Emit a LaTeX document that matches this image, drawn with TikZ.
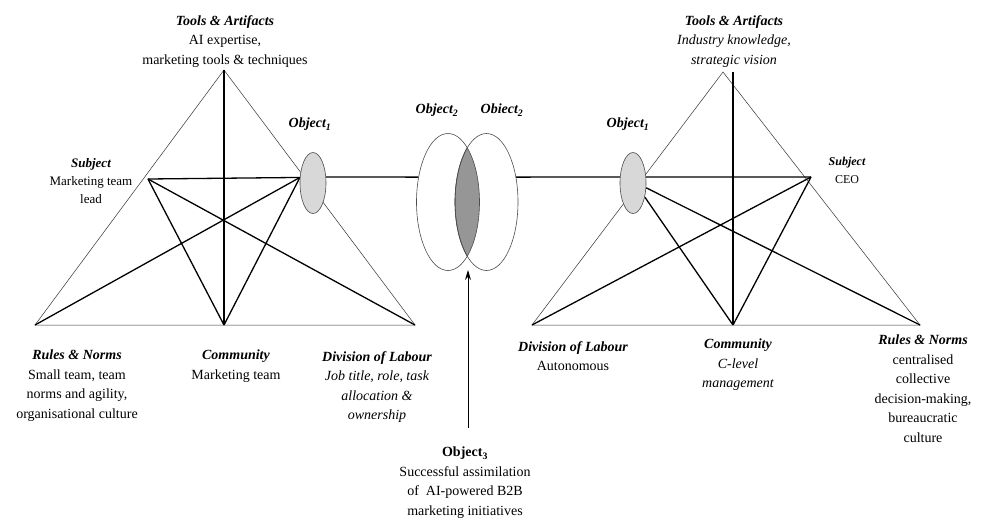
\documentclass[tikz,border=0pt]{standalone}
\usepackage{fontspec}
\setmainfont{Liberation Serif}
\usetikzlibrary{shapes.geometric,arrows.meta,backgrounds}

\begin{document}
\begin{tikzpicture}[x=1pt,y=-1pt,
  sideline/.style={line width=0.5pt,draw=black!80},
  tieline/.style={line width=1.3pt,draw=black},
  lab/.style={align=center,inner sep=0pt,anchor=north,font=\fontsize{14}{19.5}\selectfont},
  objnode/.style={ellipse,draw=black!70,line width=0.6pt,fill=objfill,minimum width=26pt,minimum height=61pt,inner sep=0pt},
  venn/.style={ellipse,draw=black!70,line width=0.6pt,minimum width=63pt,minimum height=137pt,inner sep=0pt}]
% Define colors
\definecolor{objfill}{RGB}{216,216,216}
\definecolor{lensfill}{RGB}{150,150,150}

\useasboundingbox (0,0) rectangle (986,520);

% Left activity system
\coordinate (LTool) at (224,70);
\coordinate (LSubj) at (148,179);
\coordinate (LRule) at (35,325);
\coordinate (LComm) at (224,325);
\coordinate (LDiv) at (415,325);
\node[objnode] (LObj) at (313,183) {};
\coordinate (LO) at (LObj.157);

% Right activity system
\coordinate (RTool) at (723,72);
\coordinate (RSubj) at (811,177);
\coordinate (RDiv) at (532,325);
\coordinate (RComm) at (733,325);
\coordinate (RRule) at (920,325);
\coordinate (RTop) at (RComm |- RTool);
\node[objnode] (RObj) at (633,183) {};

% Shared object
\node[venn] (VL) at (448,202) {};
\node[venn] (VR) at (486.5,202) {};

% Draw connections
\begin{scope}[on background layer]
\draw[sideline] (LTool) -- (LRule) -- (LDiv) -- cycle;
\draw[tieline] (LTool) -- (LComm);
\draw[tieline] (LSubj) -- (LO);
\draw[tieline] (LSubj) -- (LComm);
\draw[tieline] (LSubj) -- (LDiv);
\draw[tieline] (LO) -- (LRule);
\draw[tieline] (LO) -- (LComm);

\draw[sideline] (RTool) -- (RDiv) -- (RRule) -- cycle;
\draw[tieline] (RTop) -- (RComm);
\draw[tieline] (RObj.25) -- (RSubj);
\draw[tieline] (RObj.-50) -- (RComm);
\draw[tieline] (RObj.-20) -- (RRule);
\draw[tieline] (RSubj) -- (RDiv);
\draw[tieline] (RSubj) -- (RComm);

\draw[tieline] (LObj.25) -- (VL.140);
\draw[tieline] (VR.40) -- (RObj.155);

\begin{scope}
\clip (VL.center) ellipse [x radius=31.5pt,y radius=68.5pt];
\fill[lensfill,draw=black!80,line width=0.6pt] (VR.center) ellipse [x radius=31.5pt,y radius=68.5pt];
\end{scope}
\end{scope}

% Add labels
\node[lab] (LToolLab) at (225,15) {{\bfseries\itshape Tools \& Artifacts}\\AI expertise,\\marketing tools \& techniques};
\node[lab,font=\fontsize{13}{18}\selectfont] (LSubjLab) at (91,158) {{\bfseries\itshape Subject}\\Marketing team\\lead};
\node[lab] (LObjLab) at (310,118) {\bfseries\itshape Object\textsubscript{1}};
\node[lab] (LRuleLab) at (77,350) {{\bfseries\itshape Rules \& Norms}\\Small team, team\\norms and agility,\\organisational culture};
\node[lab] (LCommLab) at (236,350) {{\bfseries\itshape Community}\\Marketing team};
\node[lab] (LDivLab) at (377,351) {{\bfseries\itshape Division of Labour}\\{\itshape Job title, role, task}\\{\itshape allocation \&}\\{\itshape ownership}};

\node[lab] (Obj2LLab) at (437,104) {\bfseries\itshape Object\textsubscript{2}};
\node[lab] (Obj2RLab) at (502,104) {\bfseries\itshape Obiect\textsubscript{2}};
\node[lab] (Obj3Lab) at (465,447) {{\bfseries Object\textsubscript{3}}\\Successful assimilation\\of~ AI-powered B2B\\marketing initiatives};

\node[lab] (RObjLab) at (628,118) {\bfseries\itshape Object\textsubscript{1}};
\node[lab] (RToolLab) at (734,15) {{\bfseries\itshape Tools \& Artifacts}\\{\itshape Industry knowledge,}\\{\itshape strategic vision}};
\node[lab,font=\fontsize{12}{18}\selectfont] (RSubjLab) at (847,157) {{\bfseries\itshape Subject}\\CEO};
\node[lab] (RDivLab) at (573,341) {{\bfseries\itshape Division of Labour}\\Autonomous};
\node[lab] (RCommLab) at (738,339) {{\bfseries\itshape Community}\\{\itshape C-level}\\{\itshape management}};
\node[lab] (RRuleLab) at (923,335) {{\bfseries\itshape Rules \& Norms}\\centralised\\collective\\decision-making,\\bureaucratic\\culture};

% Draw arrow into the shared object
\coordinate (ArrowTail) at (468,428);
\coordinate (ArrowTip) at (468,270);
\draw[tieline,line width=1pt,-{Stealth[length=10pt,width=6pt]}] (ArrowTail) -- (ArrowTip);
\end{tikzpicture}
\end{document}
